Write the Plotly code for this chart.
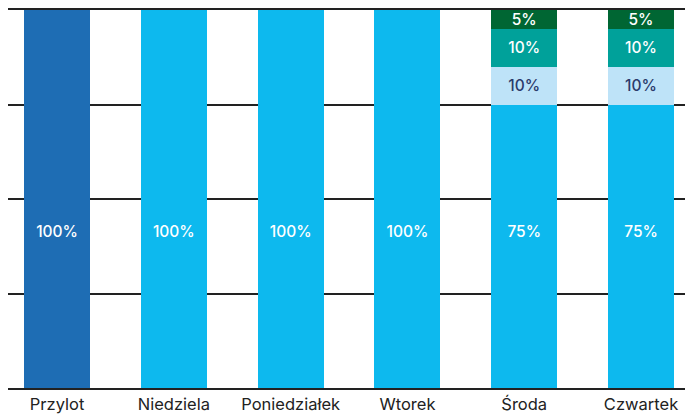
import plotly.graph_objects as go

categories = ["Przylot", "Niedziela", "Poniedziałek", "Wtorek", "Środa", "Czwartek"]
base_values = [100, 100, 100, 100, 75, 75]
light_values = [0, 0, 0, 0, 10, 10]
teal_values = [0, 0, 0, 0, 10, 10]
green_values = [0, 0, 0, 0, 5, 5]
y_ticks = [0, 25, 50, 75, 100]

BASE_LABEL_LEVEL = 40.9  # vertical level (in axis units) of the base-series labels

base_colors = ["#1E6DB4"] + ["#0DB9EE"] * 5

def labels(vals):
    return [f"{v}%" if v else "" for v in vals]

font_family = "Inter, 'Open Sans', sans-serif"

fig = go.Figure()
fig.add_trace(go.Bar(
    x=categories, y=base_values, marker=dict(color=base_colors, line=dict(width=0)),
    width=0.565, hoverinfo="skip", showlegend=False,
))
series = [
    (light_values, "#BEE3F8", "#2B3A6B"),
    (teal_values, "#00A19A", "#FFFFFF"),
    (green_values, "#006633", "#FFFFFF"),
]
for vals, col, tcol in series:
    fig.add_trace(go.Bar(
        x=categories, y=vals, marker=dict(color=col, line=dict(width=0)),
        text=labels(vals), textposition="inside", insidetextanchor="middle",
        textangle=0,
        insidetextfont=dict(color=tcol, size=15.5, family=font_family, weight=500),
        width=0.565, hoverinfo="skip", showlegend=False,
    ))

fig.add_trace(go.Scatter(
    x=categories, y=[BASE_LABEL_LEVEL] * len(categories),
    text=labels(base_values), mode="text",
    textfont=dict(color="#FFFFFF", size=15.5, family=font_family, weight=500),
    hoverinfo="skip", showlegend=False,
))

fig.update_layout(
    barmode="stack",
    width=685, height=406,
    margin=dict(l=0, r=0, t=2, b=24),
    paper_bgcolor="white", plot_bgcolor="white",
    uniformtext=dict(minsize=14, mode="show"),
    xaxis=dict(range=[-0.42, 5.445], showgrid=False, ticks="",
               tickfont=dict(size=16.5, color="#222222", family=font_family),
               showline=True, mirror=True, linecolor="#222222", linewidth=1.5,
               zeroline=False),
    yaxis=dict(range=[0, 100], tickvals=y_ticks, showticklabels=False,
               showgrid=True, gridcolor="#222222", gridwidth=1.5,
               zeroline=False, showline=False),
)

fig.write_html("out.html")
